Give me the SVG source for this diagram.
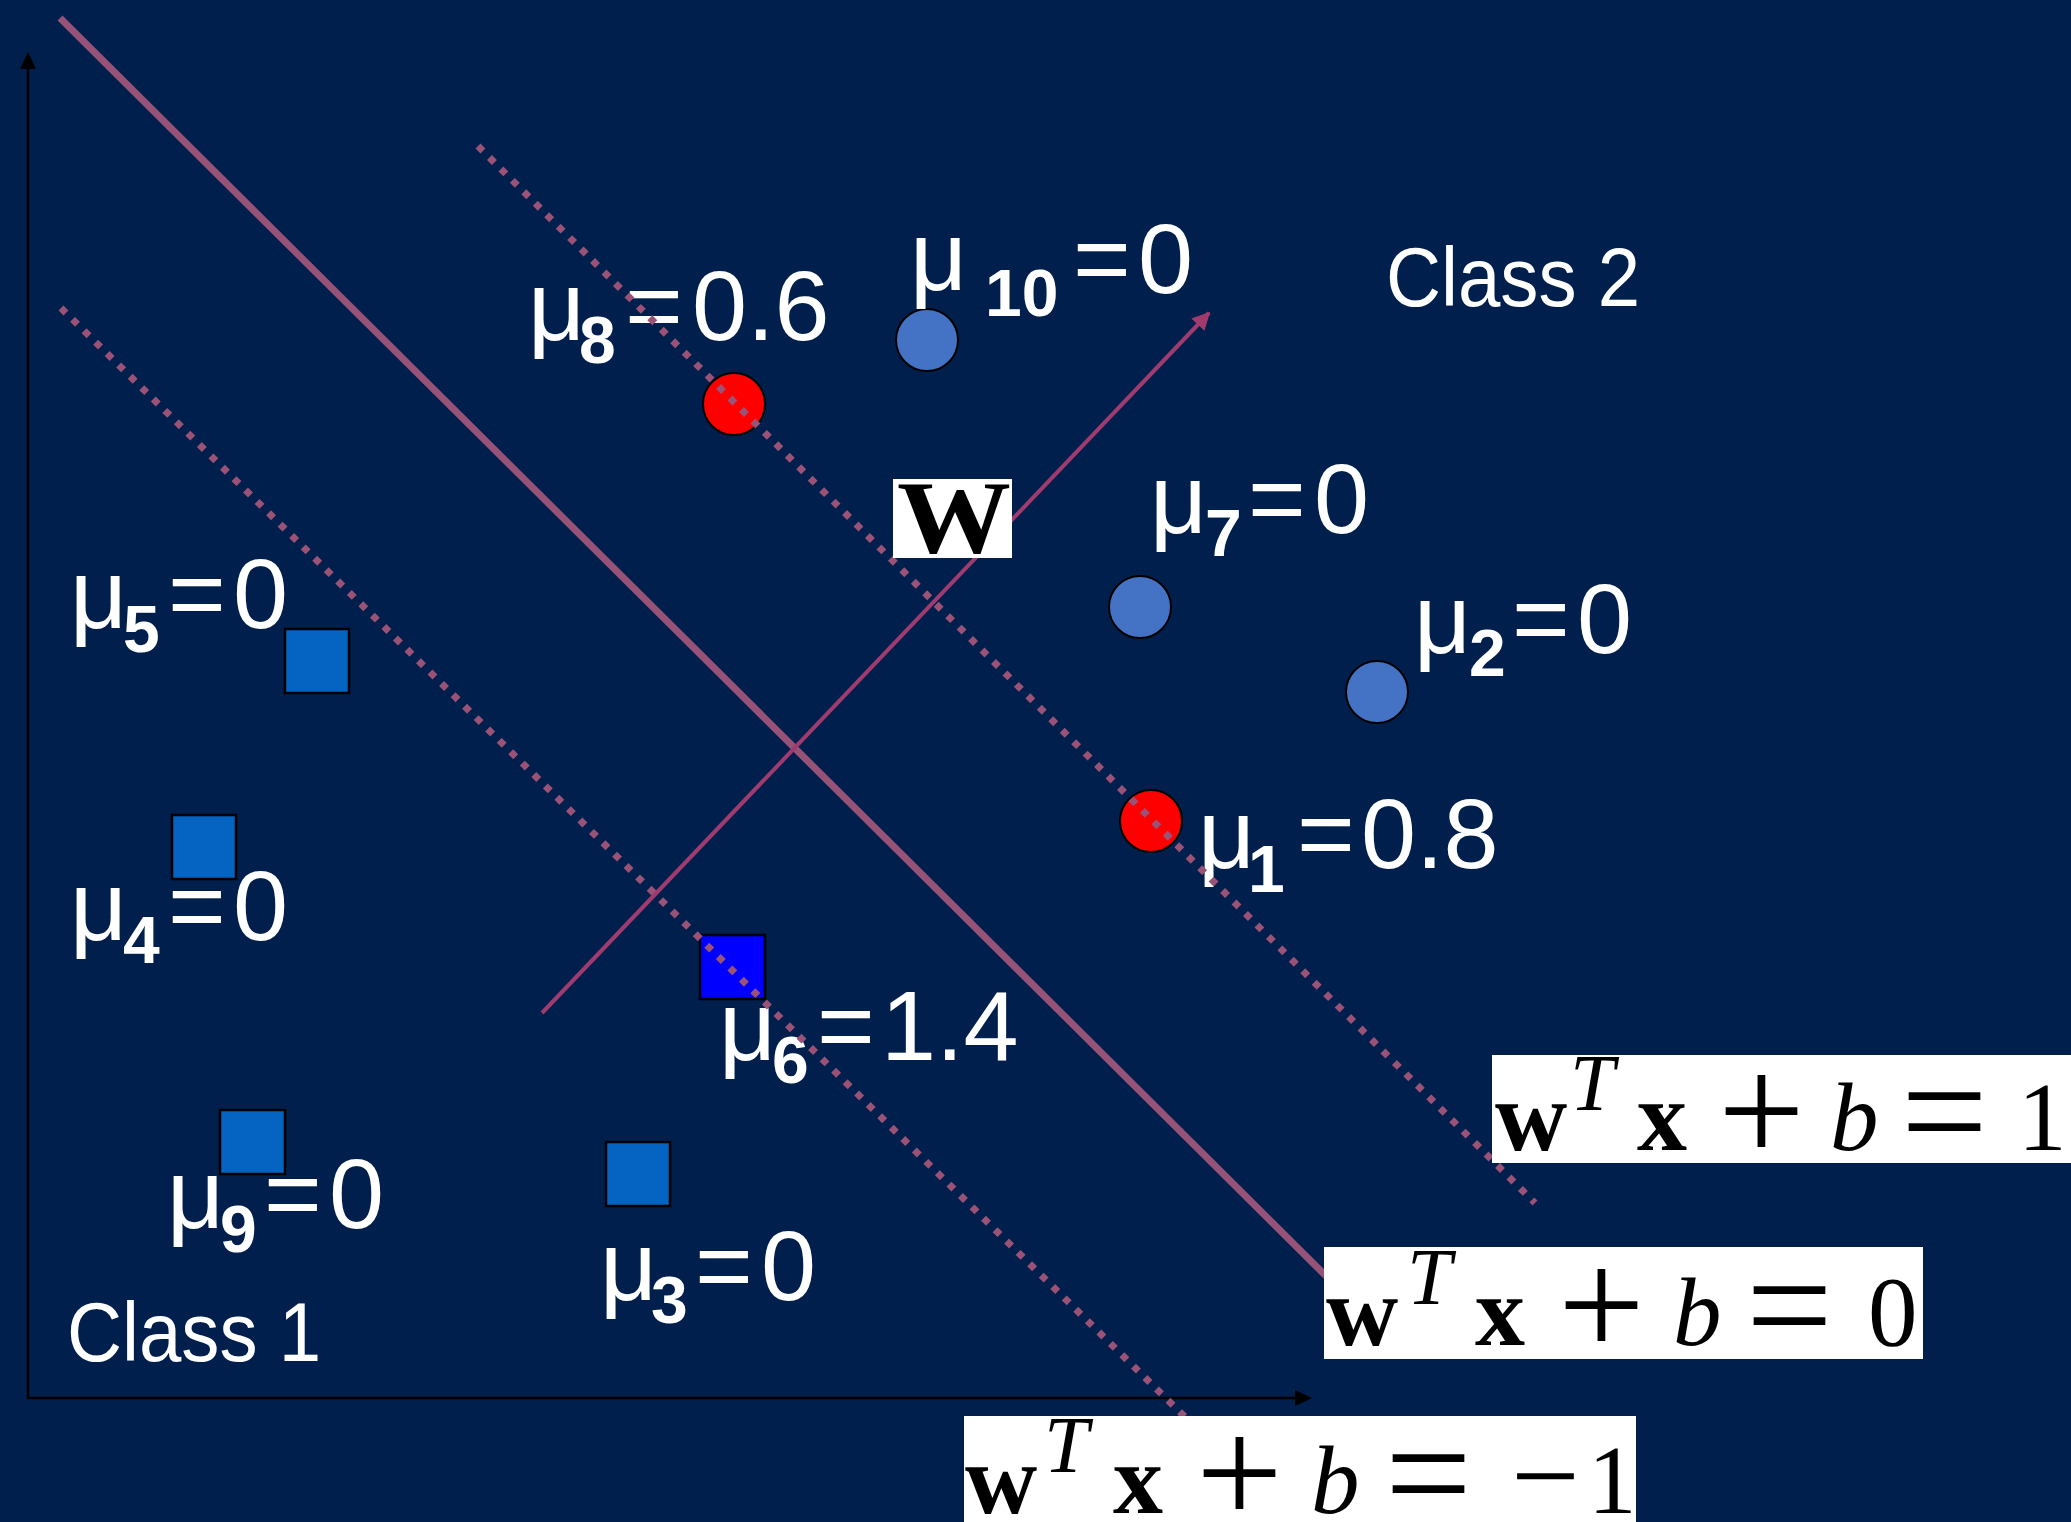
<svg xmlns="http://www.w3.org/2000/svg" width="2071" height="1522" viewBox="0 0 2071 1522">
<style>
.lbl{font-family:"Liberation Sans",Arial,sans-serif;fill:#ffffff;font-size:99px}
.sub{font-weight:bold;font-size:66px}
.cls{font-family:"Liberation Sans",Arial,sans-serif;fill:#ffffff;font-size:84px}
.sq{fill:#0563c1;stroke:#000;stroke-width:2.5}
.dot{fill:#4472c4;stroke:#000;stroke-width:2}
.sv{fill:#ff0000;stroke:#000;stroke-width:2}
.eq{font-family:"Liberation Serif","Times New Roman",serif;fill:#000}
.bw{font-weight:bold;font-size:100px}
.it{font-style:italic}
.box{fill:#ffffff}
.solid{stroke:#975277;stroke-width:7;fill:none}
.dotted{stroke:#9a5276;stroke-width:7;stroke-dasharray:7 9.2;fill:none}
.wvec{stroke:#a03b6f;stroke-width:4;fill:none}
.axis{stroke:#000;stroke-width:2.5;fill:none}
</style>
<defs>
<marker id="wh" viewBox="0 0 10 10" refX="9" refY="5" markerWidth="4.5" markerHeight="4.5" orient="auto" markerUnits="strokeWidth">
<path d="M0,0 L10,5 L0,10 z" fill="#a03b6f"/>
</marker>
</defs>
<rect x="0" y="0" width="2071" height="1522" fill="#011f4c"/>

<g id="axes">
<line class="axis" x1="28" y1="1398" x2="28" y2="66"/>
<polygon points="28,52 20,69 36,69" fill="#000"/>
<line class="axis" x1="27" y1="1398" x2="1297" y2="1398"/>
<polygon points="1312,1398 1295,1390 1295,1406" fill="#000"/>
</g>

<g id="class2-label"><text class="cls" x="1386" y="306" textLength="254" lengthAdjust="spacingAndGlyphs">Class 2</text></g>
<g id="class1-label"><text class="cls" x="67" y="1361" textLength="254" lengthAdjust="spacingAndGlyphs">Class 1</text></g>

<g id="p5">
<rect class="sq" x="285" y="629" width="64" height="64"/>
<text class="lbl"><tspan x="70" y="628">μ</tspan><tspan class="sub" x="123" y="652">5</tspan><tspan x="168" y="628">=</tspan><tspan x="233" y="628">0</tspan></text>
</g>
<g id="p4">
<rect class="sq" x="172" y="815" width="64" height="64"/>
<text class="lbl"><tspan x="70" y="940">μ</tspan><tspan class="sub" x="123" y="963">4</tspan><tspan x="168" y="940">=</tspan><tspan x="233" y="940">0</tspan></text>
</g>
<g id="p9">
<rect class="sq" x="220" y="1110" width="65" height="64"/>
<text class="lbl"><tspan x="167" y="1228">μ</tspan><tspan class="sub" x="220" y="1252">9</tspan><tspan x="264" y="1228">=</tspan><tspan x="329" y="1228">0</tspan></text>
</g>
<g id="p3">
<rect class="sq" x="606" y="1142" width="64" height="64"/>
<text class="lbl"><tspan x="600" y="1300">μ</tspan><tspan class="sub" x="651" y="1323">3</tspan><tspan x="695" y="1300">=</tspan><tspan x="761" y="1300">0</tspan></text>
</g>
<g id="p6">
<rect x="700" y="935" width="65" height="64" fill="#0000ff" stroke="#000" stroke-width="2.5"/>
<text class="lbl"><tspan x="719" y="1060">μ</tspan><tspan class="sub" x="772" y="1083">6</tspan><tspan x="817" y="1060">=</tspan><tspan x="881" y="1060">1.4</tspan></text>
</g>
<g id="p8">
<circle class="sv" cx="734" cy="404" r="31"/>
<text class="lbl"><tspan x="528" y="340">μ</tspan><tspan class="sub" x="579" y="363">8</tspan><tspan x="625" y="340">=</tspan><tspan x="692" y="340">0.6</tspan></text>
</g>
<g id="p10">
<circle class="dot" cx="927" cy="340" r="31"/>
<text class="lbl"><tspan x="910" y="290">μ</tspan><tspan class="sub" x="985" y="316">10</tspan><tspan x="1073" y="293">=</tspan><tspan x="1138" y="293">0</tspan></text>
</g>
<g id="p7">
<circle class="dot" cx="1140" cy="607" r="31"/>
<text class="lbl"><tspan x="1150" y="533">μ</tspan><tspan class="sub" x="1205" y="556">7</tspan><tspan x="1248" y="533">=</tspan><tspan x="1314" y="533">0</tspan></text>
</g>
<g id="p2">
<circle class="dot" cx="1377" cy="692" r="31"/>
<text class="lbl"><tspan x="1414" y="653">μ</tspan><tspan class="sub" x="1469" y="676">2</tspan><tspan x="1512" y="653">=</tspan><tspan x="1577" y="653">0</tspan></text>
</g>
<g id="p1">
<circle class="sv" cx="1151" cy="821" r="31"/>
<text class="lbl"><tspan x="1198" y="868">μ</tspan><tspan class="sub" x="1248" y="892">1</tspan><tspan x="1297" y="868">=</tspan><tspan x="1361" y="868">0.8</tspan></text>
</g>

<g id="connectors">
<line class="solid" x1="60" y1="18" x2="1326" y2="1276"/>
<line class="dotted" x1="478" y1="146" x2="1535" y2="1203"/>
<line class="dotted" x1="61" y1="308" x2="1190" y2="1422"/>
<line class="wvec" x1="542" y1="1013" x2="1209" y2="313" marker-end="url(#wh)"/>
</g>

<g id="w-label">
<rect class="box" x="893" y="479" width="119" height="79"/>
<text class="eq" x="897" y="552" font-size="104" font-weight="bold" textLength="114" lengthAdjust="spacingAndGlyphs">W</text>
</g>

<g id="eq-plus1">
<rect class="box" x="1492" y="1055" width="579" height="108"/>
<text class="eq"><tspan class="bw" x="1495" y="1150">w</tspan><tspan class="it" font-size="80" x="1570" y="1110">T</tspan><tspan class="bw" x="1637" y="1150">x</tspan><tspan font-size="154" x="1718" y="1163">+</tspan><tspan class="it" font-size="97" x="1830" y="1150">b</tspan><tspan font-size="154" x="1901" y="1163">=</tspan><tspan font-size="97" x="2018" y="1150">1</tspan></text>
</g>
<g id="eq-zero">
<rect class="box" x="1324" y="1247" width="599" height="112"/>
<text class="eq"><tspan class="bw" x="1326" y="1345">w</tspan><tspan class="it" font-size="80" x="1407" y="1304">T</tspan><tspan class="bw" x="1475" y="1345">x</tspan><tspan font-size="154" x="1558" y="1357">+</tspan><tspan class="it" font-size="97" x="1673" y="1345">b</tspan><tspan font-size="154" x="1746" y="1357">=</tspan><tspan font-size="99" x="1868" y="1345">0</tspan></text>
</g>
<g id="eq-minus1">
<rect class="box" x="964" y="1416" width="672" height="106"/>
<text class="eq"><tspan class="bw" x="965" y="1513">w</tspan><tspan class="it" font-size="80" x="1044" y="1472">T</tspan><tspan class="bw" x="1113" y="1513">x</tspan><tspan font-size="154" x="1196" y="1525">+</tspan><tspan class="it" font-size="97" x="1311" y="1513">b</tspan><tspan font-size="154" x="1385" y="1525">=</tspan><tspan font-size="122" x="1511" y="1517">−</tspan><tspan font-size="97" x="1588" y="1513">1</tspan></text>
</g>
</svg>
